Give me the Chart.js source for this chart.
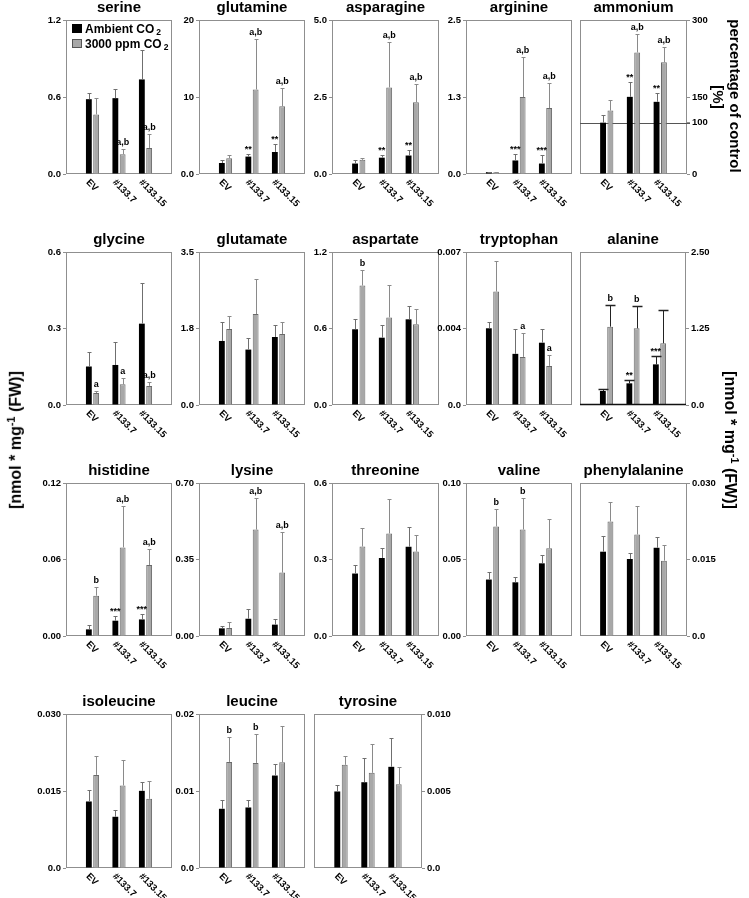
<!DOCTYPE html>
<html><head><meta charset="utf-8">
<script src="https://cdn.jsdelivr.net/npm/chart.js@4.4.1/dist/chart.umd.min.js"></script>
<style>
html,body{margin:0;padding:0;background:#fff;}
#wrap{position:relative;width:749px;height:898px;overflow:hidden;font-family:"Liberation Sans",Arial,sans-serif;}
canvas{position:absolute;}
.vlab{position:absolute;font-weight:bold;white-space:nowrap;color:#000;transform-origin:50% 50%;}
.vlab sup{font-size:11px;}
</style></head><body><div id="wrap"></div>
<script>
// ---------- data ----------
const categories = ['EV', '#133.7', '#133.15'];
const seriesNames = ['Ambient CO', '3000 ppm CO'];
const panelNames = ['serine','glutamine','asparagine','arginine','ammonium',
  'glycine','glutamate','aspartate','tryptophan','alanine',
  'histidine','lysine','threonine','valine','phenylalanine',
  'isoleucine','leucine','tyrosine'];
const ambientMean = [
  [0.583,0.591,0.737],[1.43,2.26,2.86],[0.34,0.53,0.60],[0.03,0.22,0.17],[100,150.3,140.6],
  [0.151,0.157,0.319],[1.465,1.268,1.556],[0.594,0.528,0.672],[0.00351,0.00234,0.00285],[0.229,0.354,0.664],
  [0.0052,0.012,0.013],[0.035,0.079,0.052],[0.245,0.306,0.35],[0.0369,0.0351,0.0475],[0.01653,0.0151,0.0173],
  [0.01296,0.00998,0.01503],[0.00769,0.00786,0.01201],[0.00497,0.00557,0.00657]];
const ambientErr = [
  [0.052,0.075,0.226],[0.35,0.30,1.10],[0.11,0.10,0.19],[0.004,0.11,0.14],[15,28,17.6],
  [0.056,0.092,0.161],[0.425,0.272,0.264],[0.078,0.097,0.101],[0.00027,0.00115,0.00061],[0.027,0.06,0.136],
  [0.0034,0.0034,0.0045],[0.012,0.046,0.026],[0.032,0.04,0.076],[0.0047,0.0033,0.0056],[0.0031,0.0011,0.0022],
  [0.0023,0.0013,0.0017],[0.0011,0.001,0.0015],[0.0004,0.0016,0.0019]];
const elevatedMean = [
  [0.464,0.154,0.203],[2.04,10.98,8.81],[0.46,2.81,2.33],[0.03,1.25,1.07],[123.5,236.7,217.6],
  [0.047,0.081,0.075],[1.74,2.08,1.625],[0.937,0.687,0.633],[0.00519,0.0022,0.00179],[1.28,1.253,1.008],
  [0.0316,0.0695,0.0557],[0.037,0.487,0.29],[0.351,0.402,0.331],[0.0716,0.0696,0.0573],[0.02245,0.0199,0.01477],
  [0.01814,0.01607,0.01348],[0.01378,0.01365,0.01374],[0.0067,0.00618,0.00544]];
const elevatedErr = [
  [0.125,0.044,0.107],[0.48,6.50,2.38],[0.07,1.46,0.58],[0.004,0.65,0.40],[21,37,30],
  [0.008,0.023,0.015],[0.29,0.81,0.265],[0.125,0.258,0.117],[0.00138,0.00108,0.00052],[0.36,0.37,0.539],
  [0.0068,0.0323,0.0128],[0.028,0.145,0.187],[0.071,0.136,0.066],[0.0114,0.0209,0.0191],[0.0039,0.0055,0.0031],
  [0.0036,0.0049,0.0034],[0.0032,0.0037,0.0047],[0.0006,0.0019,0.0011]];
const ambientMarks = [
  ['','',''],['','**','**'],['','**','**'],['','***','***'],['','**','**'],
  ['','',''],['','',''],['','',''],['','',''],['','**','***'],
  ['','***','***'],['','',''],['','',''],['','',''],['','',''],
  ['','',''],['','',''],['','','']];
const elevatedMarks = [
  ['','a,b','a,b'],['','a,b','a,b'],['','a,b','a,b'],['','a,b','a,b'],['','a,b','a,b'],
  ['a','a','a,b'],['','',''],['b','',''],['','a','a'],['b','b',''],
  ['b','a,b','a,b'],['','a,b','a,b'],['','',''],['b','b',''],['','',''],
  ['','',''],['b','b',''],['','','']];
const axisMax = [1.2,20,5,2.5,300, 0.6,3.5,1.2,0.007,2.5, 0.12,0.7,0.6,0.1,0.03, 0.03,0.02,0.01];
const tickValues = [
  [0,0.6,1.2],[0,10,20],[0,2.5,5],[0,1.25,2.5],[0,100,150,300],
  [0,0.3,0.6],[0,1.75,3.5],[0,0.6,1.2],[0,0.0035,0.007],[0,1.25,2.5],
  [0,0.06,0.12],[0,0.35,0.7],[0,0.3,0.6],[0,0.05,0.1],[0,0.015,0.03],
  [0,0.015,0.03],[0,0.01,0.02],[0,0.005,0.01]];
const tickLabels = [
  ['0.0','0.6','1.2'],['0.0','10','20'],['0.0','2.5','5.0'],['0.0','1.3','2.5'],['0','100','150','300'],
  ['0.0','0.3','0.6'],['0.0','1.8','3.5'],['0.0','0.6','1.2'],['0.0','0.004','0.007'],['0.0','1.25','2.50'],
  ['0.00','0.06','0.12'],['0.00','0.35','0.70'],['0.0','0.3','0.6'],['0.00','0.05','0.10'],['0.0','0.015','0.030'],
  ['0.0','0.015','0.030'],['0.0','0.01','0.02'],['0.0','0.005','0.010']];
const referenceLine = [null,null,null,null,100, null,null,null,null,null, null,null,null,null,null, null,null,null];

// ---------- layout (positions only) ----------
const boxes = [
 [66,20,106,154,false],[199,20,106,154,false],[332,20,107,154,false],[466,20,106,154,false],[580,20,107,154,true],
 [66,252,106,153,false],[199,252,106,153,false],[332,252,107,153,false],[466,252,106,153,false],[580,252,106,153,true],
 [66,483,106,153,false],[199,483,106,153,false],[332,483,107,153,false],[466,483,106,153,false],[580,483,107,153,true],
 [66,714,106,154,false],[199,714,106,154,false],[314,714,108,154,true]];

const FONT = '"Liberation Sans", Arial, sans-serif';
Chart.defaults.font.family = FONT;
const wrap = document.getElementById('wrap');

function panelPlugin(p) {
  return {
    id: 'panel' + p,
    beforeDatasetsDraw(chart) {
      const ctx = chart.ctx, ca = chart.chartArea;
      ctx.save();
      ctx.strokeStyle = '#8f8f8f'; ctx.lineWidth = 1;
      ctx.strokeRect(Math.round(ca.left) + 0.5, Math.round(ca.top) + 0.5,
                     Math.round(ca.right - ca.left) - 1, Math.round(ca.bottom - ca.top) - 1);
      if (referenceLine[p] !== null) {
        const y = Math.round(chart.scales.y.getPixelForValue(referenceLine[p])) + 0.5;
        ctx.strokeStyle = '#555'; ctx.beginPath();
        ctx.moveTo(ca.left, y); ctx.lineTo(ca.right + 3, y); ctx.stroke();
      }
      ctx.restore();
    },
    afterDatasetsDraw(chart) {
      const ctx = chart.ctx, ca = chart.chartArea, ys = chart.scales.y;
      ctx.save();
      if (p === 9) {
        ctx.strokeStyle = '#111'; ctx.lineWidth = 1.5;
        ctx.beginPath(); ctx.moveTo(ca.left, ca.bottom - 0.5); ctx.lineTo(ca.right, ca.bottom - 0.5); ctx.stroke();
      }
      const wide = (p === 9);
      [0, 1].forEach(d => {
        const meta = chart.getDatasetMeta(d);
        const means = d === 0 ? ambientMean[p] : elevatedMean[p];
        const errs = d === 0 ? ambientErr[p] : elevatedErr[p];
        const marks = d === 0 ? ambientMarks[p] : elevatedMarks[p];
        means.forEach((m, j) => {
          const bar = meta.data[j + 1];
          const x = Math.round(bar.x) + 0.5;
          const yTop = Math.round(ys.getPixelForValue(m + errs[j])) + 0.5;
          ctx.strokeStyle = wide ? '#222' : (d === 0 ? '#6f6f6f' : '#8a8a8a');
          ctx.lineWidth = 1;
          ctx.beginPath(); ctx.moveTo(x, bar.y); ctx.lineTo(x, yTop); ctx.stroke();
          const cw = wide ? 5 : 2;
          ctx.lineWidth = wide ? 1.5 : 1;
          ctx.beginPath(); ctx.moveTo(x - cw, yTop); ctx.lineTo(x + cw, yTop); ctx.stroke();
          if (marks[j]) {
            ctx.fillStyle = '#000';
            ctx.font = 'bold 9px ' + FONT;
            ctx.textAlign = 'center'; ctx.textBaseline = 'bottom';
            ctx.fillText(marks[j], bar.x, yTop - (marks[j].indexOf('*') >= 0 ? 0 : 2));
          }
        });
      });
      ctx.restore();
    },
    afterDraw(chart) {
      const ctx = chart.ctx, ca = chart.chartArea, xs = chart.scales.x;
      ctx.save();
      ctx.fillStyle = '#000';
      ctx.font = 'bold 15px ' + FONT;
      ctx.textAlign = 'center'; ctx.textBaseline = 'alphabetic';
      ctx.fillText(panelNames[p], (ca.left + ca.right) / 2, ca.top - 8);
      ctx.font = 'bold 9.5px ' + FONT;
      ctx.textAlign = 'left'; ctx.textBaseline = 'middle';
      categories.forEach((c, j) => {
        const x = xs.getPixelForValue(j + 1);
        ctx.save();
        ctx.translate(x - 5, ca.bottom + 7);
        ctx.rotate(Math.PI / 4);
        ctx.fillText(c, 0, 0);
        ctx.restore();
      });
      if (p === 0) {
        const lx = ca.left + 6;
        [[ca.top + 4, '#000', '#000'], [ca.top + 19, '#a8a8a8', '#555']].forEach((s, k) => {
          ctx.fillStyle = s[1]; ctx.fillRect(lx, s[0], 10, 9);
          ctx.strokeStyle = s[2]; ctx.lineWidth = 1; ctx.strokeRect(lx + 0.5, s[0] + 0.5, 9, 8);
          ctx.fillStyle = '#000';
          ctx.font = 'bold 12px ' + FONT; ctx.textAlign = 'left'; ctx.textBaseline = 'alphabetic';
          const tx = ca.left + 19, ty = s[0] + 9;
          ctx.fillText(seriesNames[k], tx, ty);
          const w = ctx.measureText(seriesNames[k]).width;
          ctx.font = 'bold 8.5px ' + FONT;
          ctx.fillText('2', tx + w + 2, ty + 2);
        });
      }
      ctx.restore();
    }
  };
}

const YW = 42, PT = 36, PB = 44, SIDE = 4;
boxes.forEach((b, p) => {
  const [left, top, w, h, rightAxis] = b;
  const cw = YW + w + SIDE, ch = PT + h + PB;
  const canvas = document.createElement('canvas');
  canvas.width = cw; canvas.height = ch;
  canvas.style.width = cw + 'px'; canvas.style.height = ch + 'px';
  canvas.style.left = (rightAxis ? left - SIDE : left - YW) + 'px';
  canvas.style.top = (top - PT) + 'px';
  wrap.appendChild(canvas);
  new Chart(canvas, {
    type: 'bar',
    data: {
      labels: ['', ...categories, ''],
      datasets: [
        { label: seriesNames[0], data: [null, ...ambientMean[p], null], backgroundColor: '#000', borderWidth: 0,
          categoryPercentage: 0.55, barPercentage: 0.8 },
        { label: seriesNames[1], data: [null, ...elevatedMean[p], null], backgroundColor: '#a8a8a8', borderColor: '#6a6a6a',
          borderWidth: 1, borderSkipped: 'bottom', categoryPercentage: 0.55, barPercentage: 0.8 }
      ]
    },
    options: {
      responsive: false, animation: false, devicePixelRatio: 1,
      layout: { padding: { top: PT, bottom: PB, left: rightAxis ? SIDE : 0, right: rightAxis ? 0 : SIDE } },
      plugins: { legend: { display: false }, tooltip: { enabled: false }, title: { display: false } },
      scales: {
        x: { type: 'category', display: false, offset: false },
        y: {
          position: rightAxis ? 'right' : 'left', min: 0, max: axisMax[p],
          afterBuildTicks: s => { s.ticks = tickValues[p].map(v => ({ value: v })); },
          afterFit: s => { s.width = YW; },
          ticks: { callback: (v, i) => tickLabels[p][i], font: { size: 9.5, weight: 'bold' }, color: '#000', padding: 2, autoSkip: false },
          grid: { display: true, drawOnChartArea: false, drawTicks: true, tickLength: 3, color: '#8f8f8f' },
          border: { display: false }
        }
      }
    },
    plugins: [panelPlugin(p)]
  });
});

function vlabel(html, cx, cy, deg, size) {
  const d = document.createElement('div');
  d.className = 'vlab';
  d.style.fontSize = size + 'px';
  d.innerHTML = html;
  wrap.appendChild(d);
  d.style.left = cx + 'px'; d.style.top = cy + 'px';
  d.style.transform = 'translate(-50%,-50%) rotate(' + deg + 'deg)';
}
vlabel('[nmol * mg<sup>-1</sup> (FW)]', 15, 440, -90, 16);
vlabel('[nmol * mg<sup>-1</sup> (FW)]', 731, 440, 90, 16);
vlabel('percentage of control', 735, 96, 90, 15);
vlabel('[%]', 718, 97, 90, 15);
</script></body></html>
